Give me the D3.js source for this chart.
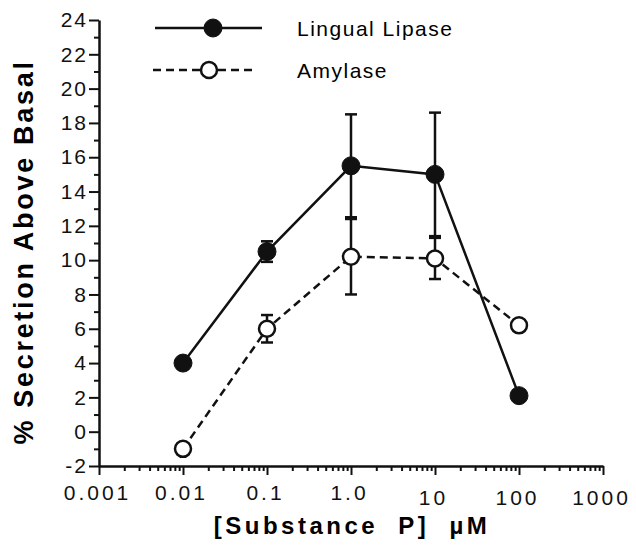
<!DOCTYPE html>
<html lang="en">
  <head>
    <meta charset="UTF-8" />
    <title>Substance P secretion</title>
    <style>
      body { margin: 0; background: #fff; }
      svg { font-family: "Liberation Sans", Arial, Helvetica, sans-serif; }
      .axis path, .axis line { stroke: #111; }
      .axis path { stroke-width: 2.5px; }
      .axis line { stroke-width: 2px; }
      .axis text { font-size: 21px; fill: #111; font-family: "Liberation Sans", Arial, sans-serif; }
    </style>
  </head>
  <body>
    <div class="chart"></div>
    <script src="https://d3js.org/d3.v7.min.js"></script>
    <script>
    // values
    var conc = [0.01, 0.1, 1, 10, 100];
    var lipase = [4.0, 10.5, 15.5, 15.0, 2.1];
    var lipaseErr = [0, 0.6, 3.0, 3.6, 0];
    var amylase = [-1.0, 6.0, 10.2, 10.1, 6.2];
    var amylaseErr = [0, 0.8, 2.2, 1.2, 0];

    var xTicks = [0.001, 0.01, 0.1, 1, 10, 100, 1000];
    var xTickLabels = ["0.001", "0.01", "0.1", "1.0", "10", "100", "1000"];
    var yTicks = [-2, 0, 2, 4, 6, 8, 10, 12, 14, 16, 18, 20, 22, 24];
    var seriesNames = ["Lingual Lipase", "Amylase"];

    var w = 636, h = 548;
    var svg = d3.select(".chart").append("svg")
      .attr("width", w)
      .attr("height", h);

    var x = d3.scaleLog().domain([0.001, 1000]).range([99, 603]);
    var y = d3.scaleLinear().domain([-2, 24]).range([466, 20]);

    // minor ticks
    var xMinor = x.ticks().filter(function(d) { return xTicks.indexOf(d) < 0; });
    var yMinor = y.ticks(26).filter(function(d) { return yTicks.indexOf(d) < 0; });

    svg.append("g")
      .attr("class", "axis")
      .attr("transform", "translate(0,466)")
      .call(d3.axisBottom(x).tickValues(xMinor).tickSize(5).tickFormat(""))
      .select(".domain").remove();

    svg.append("g")
      .attr("class", "axis")
      .attr("transform", "translate(99,0)")
      .call(d3.axisLeft(y).tickValues(yMinor).tickSize(5).tickFormat(""))
      .select(".domain").remove();

    var xAxis = svg.append("g")
      .attr("class", "axis")
      .attr("transform", "translate(0,466)")
      .call(d3.axisBottom(x).tickValues(xTicks).tickSize(9).tickSizeOuter(0).tickPadding(10)
        .tickFormat(function(d, i) { return xTickLabels[i]; }));
    xAxis.selectAll("text")
      .style("letter-spacing", "3px")
      .attr("dx", "-2")
      .attr("y", function(d, i) { return i >= 4 ? 24 : 19; });

    var yAxis = svg.append("g")
      .attr("class", "axis")
      .attr("transform", "translate(99,0)")
      .call(d3.axisLeft(y).tickValues(yTicks).tickSize(10).tickSizeOuter(0).tickPadding(1)
        .tickFormat(function(d) { return String(d); }));
    yAxis.selectAll("text").style("letter-spacing", "2px");

    // axis titles
    svg.append("text")
      .attr("transform", "translate(33,252) rotate(-90)")
      .attr("text-anchor", "middle")
      .attr("font-size", "27px")
      .attr("font-weight", "bold")
      .style("letter-spacing", "2.7px")
      .text("% Secretion Above Basal");

    svg.append("text")
      .attr("x", 352)
      .attr("y", 534)
      .attr("text-anchor", "middle")
      .attr("font-size", "24px")
      .attr("font-weight", "bold")
      .style("letter-spacing", "3.5px")
      .style("word-spacing", "10px")
      .text("[Substance P] \u00b5M");

    // series
    var series = [
      { name: seriesNames[0], vals: lipase, err: lipaseErr, dash: null, filled: true, r: 9 },
      { name: seriesNames[1], vals: amylase, err: amylaseErr, dash: "8,5", filled: false, r: 8 }
    ];

    var line = d3.line()
      .x(function(d) { return x(d[0]); })
      .y(function(d) { return y(d[1]); });

    // error bars first
    series.forEach(function(s) {
      var g = svg.append("g").attr("stroke", "#111").attr("stroke-width", 2.5);
      conc.forEach(function(c, i) {
        if (!s.err[i]) return;
        var cx = x(c), lo = y(s.vals[i] - s.err[i]), hi = y(s.vals[i] + s.err[i]);
        g.append("line").attr("x1", cx).attr("x2", cx).attr("y1", lo).attr("y2", hi);
        g.append("line").attr("x1", cx - 6).attr("x2", cx + 6).attr("y1", lo).attr("y2", lo);
        g.append("line").attr("x1", cx - 6).attr("x2", cx + 6).attr("y1", hi).attr("y2", hi);
      });
    });

    series.forEach(function(s) {
      svg.append("path")
        .datum(conc.map(function(c, i) { return [c, s.vals[i]]; }))
        .attr("d", line)
        .attr("fill", "none")
        .attr("stroke", "#111")
        .attr("stroke-width", 2.5)
        .attr("stroke-dasharray", s.dash);
    });

    series.forEach(function(s) {
      svg.selectAll(null)
        .data(conc)
        .enter()
        .append("circle")
        .attr("cx", function(d) { return x(d); })
        .attr("cy", function(d, i) { return y(s.vals[i]); })
        .attr("r", s.r)
        .attr("fill", s.filled ? "#111" : "#fff")
        .attr("stroke", "#111")
        .attr("stroke-width", s.filled ? 1 : 2.5);
    });

    // legend
    var legend = svg.append("g");
    var legY = [28, 70];
    series.forEach(function(s, i) {
      legend.append("line")
        .attr("x1", i ? 153 : 155).attr("x2", i ? 253 : 262)
        .attr("y1", legY[i]).attr("y2", legY[i])
        .attr("stroke", "#111").attr("stroke-width", 2.5)
        .attr("stroke-dasharray", s.dash);
      legend.append("circle")
        .attr("cx", i ? 209 : 213).attr("cy", legY[i])
        .attr("r", s.r)
        .attr("fill", s.filled ? "#111" : "#fff")
        .attr("stroke", "#111")
        .attr("stroke-width", s.filled ? 1 : 2.5);
      legend.append("text")
        .attr("x", 297)
        .attr("y", legY[i] + 8)
        .attr("font-size", "21px")
        .style("letter-spacing", "1.5px")
        .text(s.name);
    });
    </script>
  </body>
</html>
